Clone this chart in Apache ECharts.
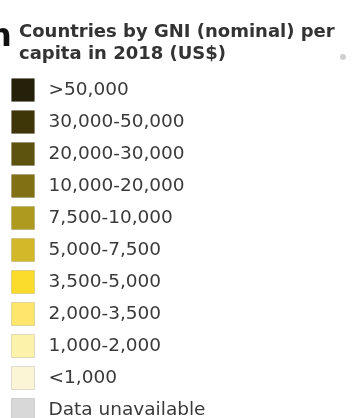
<!DOCTYPE html>
<html>
<head>
<meta charset="utf-8">
<script src="https://cdn.jsdelivr.net/npm/echarts@6/dist/echarts.min.js"></script>
<style>html,body{margin:0;padding:0;background:#fff;}#c{width:355px;height:418px;}</style>
</head>
<body>
<div id="c"></div>
<script>
const titleText = "Countries by GNI (nominal) per\ncapita in 2018 (US$)";
const categories = [">50,000", "30,000-50,000", "20,000-30,000", "10,000-20,000", "7,500-10,000", "5,000-7,500", "3,500-5,000", "2,000-3,500", "1,000-2,000", "<1,000", "Data unavailable"];
const colors = ["#24200a", "#3e3609", "#5d520e", "#827113", "#ad9a1f", "#d3b929", "#fbdc2c", "#fde66b", "#fdf2aa", "#fbf5d6", "#d8d8d8"];

const chart = echarts.init(document.getElementById('c'), null, {renderer: 'canvas'});
const series = categories.map((name, i) => ({
  name: name,
  type: 'bar',
  data: [],
  itemStyle: {color: colors[i]}
}));
chart.setOption({
  backgroundColor: '#ffffff',
  animation: false,
  title: {
    text: titleText,
    left: 19,
    top: 21,
    padding: 0,
    textStyle: {fontFamily: 'DejaVu Sans', fontWeight: 'bold', fontSize: 18, lineHeight: 22, color: '#333333'}
  },
  grid: {left: -100, top: -100, width: 10, height: 10, show: false},
  xAxis: {type: 'category', show: false, data: ['a']},
  yAxis: {type: 'value', show: false},
  legend: {
    orient: 'vertical',
    left: 11,
    top: 78,
    height: 400,
    padding: 0,
    itemWidth: 23,
    itemHeight: 23,
    itemGap: 8,
    icon: 'rect',
    selectedMode: false,
    itemStyle: {borderColor: 'rgba(0,0,0,0.12)', borderWidth: 1},
    textStyle: {fontFamily: 'DejaVu Sans', fontSize: 18.5, color: '#3a3a3a', padding: [0, 0, 0, 9]},
    data: categories
  },
  graphic: [
    {type: 'text', left: -11, top: 22, style: {text: 'n', font: 'bold 32px DejaVu Sans', fill: '#111'}},
    {type: 'circle', shape: {cx: 343, cy: 57, r: 3}, style: {fill: '#cfcfcf'}}
  ],
  series: series
});
</script>
</body>
</html>
